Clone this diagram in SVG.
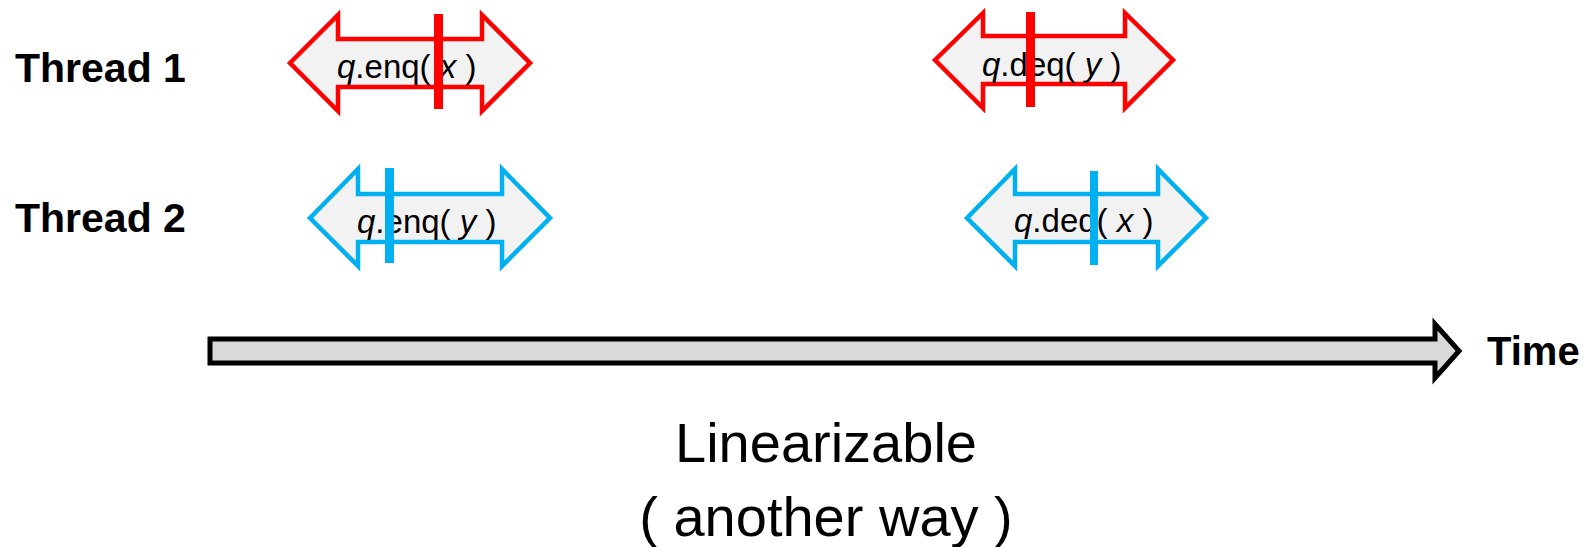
<svg xmlns="http://www.w3.org/2000/svg" width="1593" height="547" viewBox="0 0 1593 547">
<style>
.lbl{font-family:"Liberation Sans",Arial,sans-serif;font-weight:bold;font-size:41px;fill:#000}
.tm{font-family:"Liberation Sans",Arial,sans-serif;font-weight:bold;font-size:40px;fill:#000}
.op{font-family:"Liberation Sans",Arial,sans-serif;font-size:33px;fill:#000}
.big{font-family:"Liberation Sans",Arial,sans-serif;font-size:56px;fill:#000}
.red{fill:#f2f2f2;stroke:#ff0000;stroke-width:4.5;stroke-linejoin:miter}
.blue{fill:#f2f2f2;stroke:#00b0f0;stroke-width:4.5;stroke-linejoin:miter}
.rbar{fill:#ff0000}
.bbar{fill:#00b0f0}
</style>
<rect width="1593" height="547" fill="#ffffff"/>
<g id="thread1-label"><text class="lbl" x="15" y="82">Thread 1</text></g>
<g id="thread2-label"><text class="lbl" x="15" y="232">Thread 2</text></g>
<g id="t1-enq">
<path class="red" d="M290,63 L338,15 V39 H482 V15 L530,63 L482,111 V87 H338 V111 Z"/>
<text class="op" x="337" y="78"><tspan font-style="italic">q</tspan>.enq( <tspan font-style="italic">x</tspan> )</text>
<rect class="rbar" x="434" y="14" width="9" height="95"/>
</g>
<g id="t2-enq">
<path class="blue" d="M310,218 L358,169 V194 H502 V169 L550,218 L502,266 V242 H358 V266 Z"/>
<text class="op" x="357" y="233"><tspan font-style="italic">q</tspan>.enq( <tspan font-style="italic">y</tspan> )</text>
<rect class="bbar" x="385" y="168" width="9" height="95"/>
</g>
<g id="t1-deq">
<path class="red" d="M935,60 L983,13 V36 H1125 V13 L1173,60 L1125,108 V84 H983 V108 Z"/>
<text class="op" x="982" y="76"><tspan font-style="italic">q</tspan>.deq( <tspan font-style="italic">y</tspan> )</text>
<rect class="rbar" x="1026" y="12" width="9" height="95"/>
</g>
<g id="t2-deq">
<path class="blue" d="M967,218 L1015,169 V194 H1158 V169 L1206,218 L1158,266 V242 H1015 V266 Z"/>
<text class="op" x="1014" y="232"><tspan font-style="italic">q</tspan>.deq( <tspan font-style="italic">x</tspan> )</text>
<rect class="bbar" x="1090" y="171" width="8" height="94"/>
</g>
<g id="connectors">
<path d="M210,339 H1435 V324 L1459,351 L1435,378 V363 H210 Z" fill="#d9d9d9" stroke="#000" stroke-width="5" stroke-linejoin="miter"/>
</g>
<g id="time-label"><text class="tm" x="1487" y="365">Time</text></g>
<g id="caption">
<text class="big" x="826" y="462" text-anchor="middle">Linearizable</text>
<text class="big" x="826" y="536" text-anchor="middle" font-size="57.5">( another way )</text>
</g>
</svg>
